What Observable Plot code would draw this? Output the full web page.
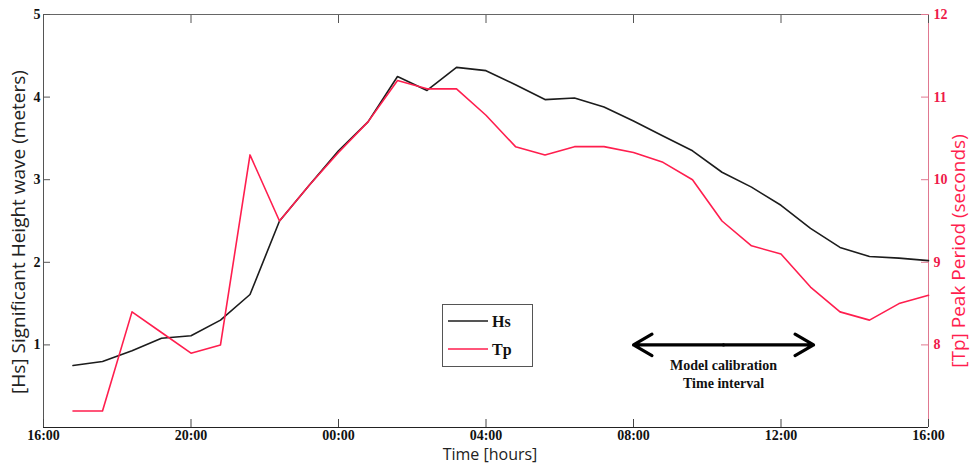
<!DOCTYPE html>
<html><head><meta charset="utf-8">
<script src="https://cdn.jsdelivr.net/npm/d3@7"></script>
<script src="https://cdn.jsdelivr.net/npm/@observablehq/plot@0.6"></script>
<style>
body{margin:0;background:#fff;}
#wrap{position:relative;width:970px;height:471px;}
#legend{position:absolute;left:442px;top:304px;width:91px;height:63px;border:1px solid #555;background:#fff;box-sizing:border-box;}
</style></head><body><div id="wrap"></div>
<script>
// ---- data ----
const times = ["16:48","17:36","18:24","19:12","20:00","20:48","21:36","22:24","23:12","00:00",
  "00:48","01:36","02:24","03:12","04:00","04:48","05:36","06:24","07:12","08:00",
  "08:48","09:36","10:24","11:12","12:00","12:48","13:36","14:24","15:12","16:00"];
const hs = [0.75,0.80,0.93,1.08,1.11,1.30,1.61,2.50,2.93,3.35,
  3.70,4.25,4.08,4.36,4.32,4.15,3.97,3.99,3.88,3.71,
  3.53,3.35,3.09,2.91,2.69,2.41,2.18,2.07,2.05,2.02];
const tp = [7.2,7.2,8.4,8.15,7.9,8.0,10.3,9.5,9.93,10.33,
  10.7,11.2,11.1,11.1,10.78,10.4,10.3,10.4,10.4,10.33,
  10.21,10.0,9.5,9.2,9.1,8.7,8.4,8.3,8.5,8.6];
const xTickLabels = ["16:00","20:00","00:00","04:00","08:00","12:00","16:00"];
const hsTicks = [1,2,3,4,5];
const tpTicks = [8,9,10,11,12];
const hsDomain = [0,5];
const tpDomain = [7,12];
const calibStart = "08:00", calibEnd = "12:53", calibLevel = 1.0;
const calibText = "Model calibration\nTime interval";
const series = ["Hs","Tp"];
const colors = {Hs:"#1c1c1c", Tp:"#ff1e4e"};

// ---- helpers: turn clock labels into a continuous time axis starting 16:00 ----
function toDates(labels, startHour){
  let day = 0, prev = startHour;
  return labels.map(s => {
    const h = +s.slice(0,2), m = +s.slice(3,5);
    if (h < prev) day++;
    prev = h;
    return new Date(Date.UTC(2000,0,1+day,h,m));
  });
}
const dates = toDates(times, 16);
const tickDates = toDates(xTickLabels, 16);
const calibDates = toDates(["16:00", calibStart, calibEnd], 16);
const cStart = calibDates[1], cEnd = calibDates[2];
const cMid = new Date((+cStart + +cEnd)/2);
const tpShift = tpDomain[0] - hsDomain[0];

const data = [];
times.forEach((t,i) => {
  data.push({date: dates[i], v: hs[i], s: "Hs"});
  data.push({date: dates[i], v: tp[i] - tpShift, s: "Tp"});
});

const serif = "'Liberation Serif','Times New Roman',serif";
const sans = "'Open Sans','Noto Sans',sans-serif";
const xDomain = [tickDates[0], tickDates[tickDates.length-1]];

const chart = Plot.plot({
  width: 970, height: 471,
  marginLeft: 43, marginRight: 42, marginTop: 14, marginBottom: 44,
  style: {background: "#fff"},
  x: {type: "utc", domain: xDomain},
  y: {domain: hsDomain},
  marks: [
    Plot.ruleY([hsDomain[1]], {stroke: "#666", strokeWidth: 1}),
    Plot.ruleX([xDomain[0]], {stroke: "#555", strokeWidth: 1}),
    Plot.ruleX([xDomain[1]], {stroke: "#e07890", strokeWidth: 1}),
    Plot.ruleY([hsDomain[0]], {stroke: "#222", strokeWidth: 1}),
    Plot.axisX({anchor: "bottom", ticks: tickDates, tickSize: -8, tickPadding: 11,
      tickFormat: d3.utcFormat("%H:%M"), label: null,
      fontFamily: serif, fontWeight: "bold", fontSize: 14, stroke: "#444", color: "#111"}),
    Plot.axisX({anchor: "top", ticks: tickDates, tickSize: -8, tickFormat: () => "", label: null, stroke: "#555"}),
    Plot.axisY({anchor: "left", ticks: hsTicks, tickSize: -7, tickPadding: 10, label: null,
      tickFormat: d => String(d),
      fontFamily: serif, fontWeight: "bold", fontSize: 14, stroke: "#555", color: "#111"}),
    Plot.axisY({anchor: "right", ticks: tpTicks.map(v => v - tpShift), tickSize: -8, tickPadding: 13,
      tickFormat: d => String(d + tpShift), label: null,
      fontFamily: serif, fontWeight: "bold", fontSize: 14, stroke: "#e07890", color: "#ee1a4a"}),
    Plot.lineY(data, {x: "date", y: "v", z: "s", stroke: d => colors[d.s], strokeWidth: 1.6}),
    Plot.arrow([0], {x1: () => cMid, x2: () => cStart, y1: () => calibLevel, y2: () => calibLevel,
      stroke: "#000", strokeWidth: 3.2, headLength: 10, headAngle: 60}),
    Plot.arrow([0], {x1: () => cMid, x2: () => cEnd, y1: () => calibLevel, y2: () => calibLevel,
      stroke: "#000", strokeWidth: 3.2, headLength: 10, headAngle: 60}),
    Plot.text([calibText], {x: () => cMid, y: () => calibLevel, text: d => d, dy: 12, lineAnchor: "top",
      lineHeight: 1.3, fontFamily: serif, fontWeight: "bold", fontSize: 14, fill: "#111"}),
    Plot.text(["[Hs] Significant Height wave (meters)"], {frameAnchor: "left", text: d => d, rotate: -90,
      textAnchor: "middle", lineAnchor: "middle",
      dx: -25, dy: 11, fontFamily: sans, fontSize: 19, fill: "#222"}),
    Plot.text(["[Tp] Peak Period (seconds)"], {frameAnchor: "right", text: d => d, rotate: -90,
      textAnchor: "middle", lineAnchor: "middle",
      dx: 30, dy: 30, fontFamily: sans, fontSize: 19, fill: "#ff1e4e"}),
    Plot.text(["Time [hours]"], {frameAnchor: "bottom", text: d => d, lineAnchor: "middle",
      dx: 4, dy: 27, fontFamily: sans, fontSize: 16, fill: "#222"})
  ]
});
const wrap = document.getElementById("wrap");
wrap.appendChild(chart);

// legend box
const lg = document.createElement("div");
lg.id = "legend";
lg.innerHTML = `<svg width="89" height="61" style="display:block">
  ${series.map((s,i) => `<line x1="5" x2="45" y1="${16+i*28}" y2="${16+i*28}" stroke="${colors[s]}" stroke-width="1.6"/>
  <text x="49" y="${16+i*28}" dy="0.35em" font-family="${serif.replace(/'/g,'&quot;')}" font-weight="bold" font-size="16" fill="#111">${s}</text>`).join("")}
</svg>`;
wrap.appendChild(lg);
</script>
</body></html>
